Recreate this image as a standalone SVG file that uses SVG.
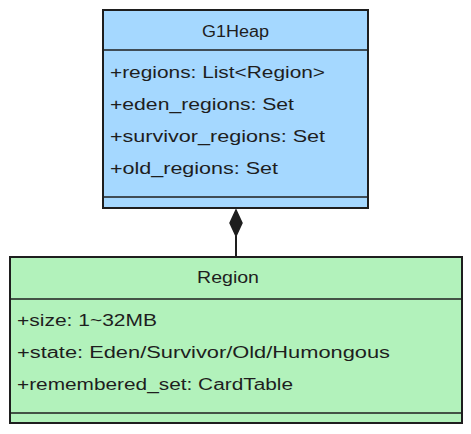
<svg xmlns="http://www.w3.org/2000/svg" width="471" height="434" viewBox="0 0 471 434">
<style>
.box{stroke:#1e1e1e;stroke-width:2;}
.div{stroke:#1e1e1e;stroke-width:1.3;fill:none;}
.t{font-family:"Liberation Sans",Arial,sans-serif;font-size:16px;fill:#1e1e1e;}
.c{text-anchor:middle;}
</style>
<rect width="471" height="434" fill="#ffffff"/>
<g id="edges">
<line x1="236" y1="236" x2="236" y2="258" stroke="#1e1e1e" stroke-width="2"/>
<polygon points="236,210 242,223 236,236 230,223" fill="#1e1e1e" stroke="#1e1e1e" stroke-width="1.5"/>
</g>
<g id="G1Heap">
<rect class="box" x="103" y="10" width="265" height="198" fill="#a5d8ff"/>
<line class="div" x1="103" y1="50" x2="368" y2="50"/>
<line class="div" x1="103" y1="197" x2="368" y2="197"/>
<text class="t c" x="235.5" y="37" textLength="67" lengthAdjust="spacingAndGlyphs">G1Heap</text>
<text class="t" x="110" y="78" textLength="215" lengthAdjust="spacingAndGlyphs">+regions: List&lt;Region&gt;</text>
<text class="t" x="110" y="110" textLength="184" lengthAdjust="spacingAndGlyphs">+eden_regions: Set</text>
<text class="t" x="110" y="142" textLength="215" lengthAdjust="spacingAndGlyphs">+survivor_regions: Set</text>
<text class="t" x="110" y="174" textLength="168" lengthAdjust="spacingAndGlyphs">+old_regions: Set</text>
</g>
<g id="Region">
<rect class="box" x="10" y="257" width="452" height="166" fill="#b2f2bb"/>
<line class="div" x1="10" y1="299" x2="462" y2="299"/>
<line class="div" x1="10" y1="413" x2="462" y2="413"/>
<text class="t c" x="228" y="283" textLength="62" lengthAdjust="spacingAndGlyphs">Region</text>
<text class="t" x="17" y="326" textLength="140" lengthAdjust="spacingAndGlyphs">+size: 1~32MB</text>
<text class="t" x="17" y="358" textLength="373" lengthAdjust="spacingAndGlyphs">+state: Eden/Survivor/Old/Humongous</text>
<text class="t" x="17" y="390" textLength="276" lengthAdjust="spacingAndGlyphs">+remembered_set: CardTable</text>
</g>
</svg>
